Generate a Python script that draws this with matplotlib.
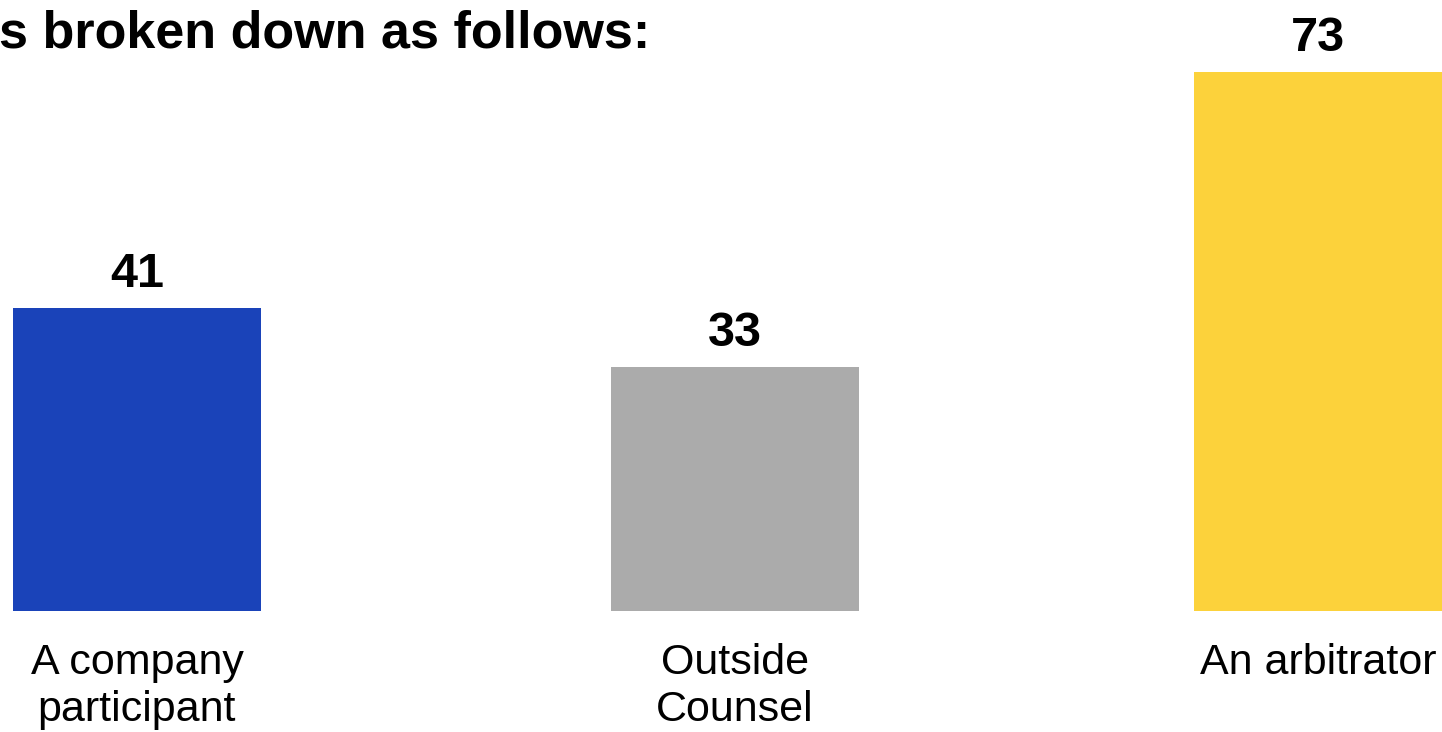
import matplotlib.pyplot as plt

plt.rcParams['font.family'] = ['Liberation Sans', 'DejaVu Sans']

# data
categories = ['A company\nparticipant', 'Outside\nCounsel', 'An arbitrator']
values = [41, 33, 73]
colors = ['#1A43B9', '#ABABAB', '#FCD23B']
title = 's broken down as follows:'

# layout in pixels (axes spans the whole figure)
W, H = 1442, 732
centers = [137, 735, 1318]
bar_w = 248
base_px = 121          # baseline, pixels from bottom
px_per_unit = 7.38

fig = plt.figure(figsize=(W / 100, H / 100), dpi=100)
ax = fig.add_axes([0, 0, 1, 1])
ax.set_xlim(0, W)
ax.set_ylim(-base_px / px_per_unit, (H - base_px) / px_per_unit)
ax.axis('off')

ax.bar(centers, values, width=bar_w, color=colors)

for x, v in zip(centers, values):
    ax.annotate(str(v), (x, v), xytext=(0, 8), textcoords='offset points',
                ha='center', va='bottom', fontsize=35, fontweight='bold')

for x, lab in zip(centers, categories):
    ax.annotate(lab, (x, 0), xytext=(0, -23), textcoords='offset points',
                ha='center', va='top', fontsize=31, linespacing=1.22)

fig.text(-0.001, 1 - 48 / H, title, ha='left', va='baseline',
         fontsize=37.5, fontweight='bold')

fig.savefig('out.png', dpi=100)
